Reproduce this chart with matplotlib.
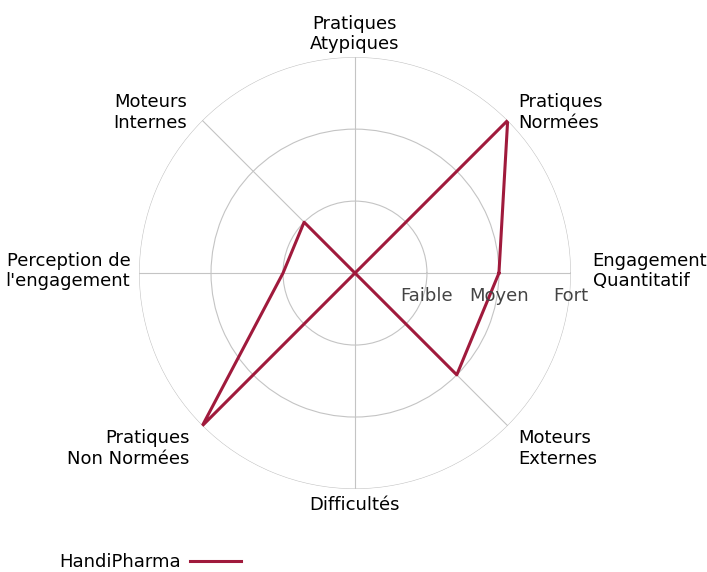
from matplotlib import pyplot as plt
import numpy as np

## Radar chart - HandiPharma

categories = ["Engagement\nQuantitatif", "Pratiques\nNormées", "Pratiques\nAtypiques",
              "Moteurs\nInternes", "Perception de\nl'engagement", "Pratiques\nNon Normées",
              "Difficultés", "Moteurs\nExternes"]
values = [2, 3, 0, 1, 1, 3, 0, 2]
levels = [1, 2, 3]
level_labels = ["Faible", "Moyen", "Fort"]
series_name = "HandiPharma"

color = '#a01a3c'
grid_color = '#c4c4c4'

fig = plt.figure(figsize=(7.07, 5.72), dpi=100)
ax = fig.add_axes([0.1966, 0.1451, 0.611, 0.755], polar=True)

n = len(categories)
angles = np.arange(n) * 2 * np.pi / n
a_closed = np.append(angles, angles[0])
v_closed = np.append(values, values[0])

line, = ax.plot(a_closed, v_closed, color=color, lw=2.2, label=series_name)

ax.set_ylim(0, 3)
ax.set_yticks(levels)
ax.set_yticklabels([])
ax.set_xticks(angles)
ax.set_xticklabels([])
ax.grid(True, color=grid_color, lw=0.8)
ax.spines['polar'].set_visible(False)

# level labels along the first axis
for lv, lab in zip(levels, level_labels):
	ax.annotate(lab, (0, lv), xytext=(0, -14), textcoords='offset pixels',
		ha='center', va='top', fontsize=13, color='#444444')

# category labels, small nudges in pixels
nudges = [(11, 2), (3, 0), (0, -7), (-8, 0), (2, 2), (-5, -15), (0, 4), (3, -15)]
for ang, lab, nd in zip(angles, categories, nudges):
	c, s = np.cos(ang), np.sin(ang)
	if abs(c) < 0.01:
		ha = 'center'
	elif c > 0:
		ha = 'left'
	else:
		ha = 'right'
	if abs(s) < 0.01:
		va = 'center'
	elif s > 0:
		va = 'bottom' if abs(c) < 0.01 else 'center'
	else:
		va = 'top' if abs(c) < 0.01 else 'center'
	ax.annotate(lab, (ang, 3.15), xytext=nd, textcoords='offset pixels',
		ha=ha, va=va, fontsize=13, linespacing=1.2, annotation_clip=False)

fig.legend(handles=[line], loc='lower left', bbox_to_anchor=(0.0615, -0.027),
	frameon=False, markerfirst=False, fontsize=13, handlelength=2.8, handletextpad=0.5)

fig.savefig('out.png', dpi=100)
